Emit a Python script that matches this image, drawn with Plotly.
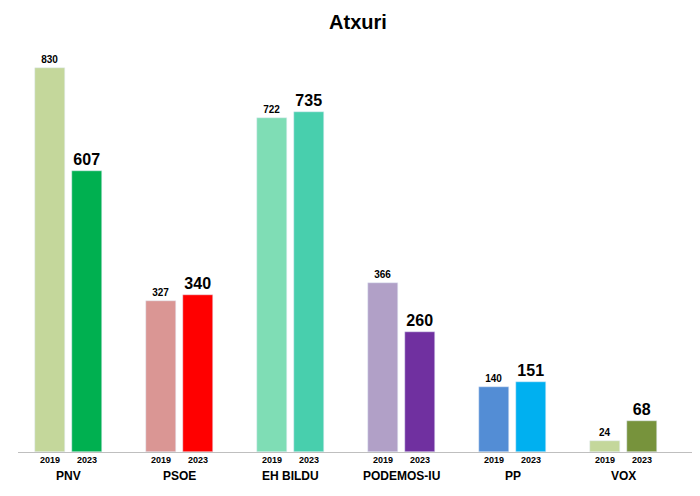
import plotly.graph_objects as go

parties = ["PNV", "PSOE", "EH BILDU", "PODEMOS-IU", "PP", "VOX"]
votes_2019 = [830, 327, 722, 366, 140, 24]
votes_2023 = [607, 340, 735, 260, 151, 68]
colors_2019 = ["#C4D79B", "#DA9694", "#7FDDB5", "#B1A0C7", "#538DD5", "#C4D79B"]
colors_2023 = ["#00B050", "#FF0000", "#48CFAD", "#7030A0", "#00B0F0", "#77933C"]

x19 = [3 * i - 0.5 for i in range(len(parties))]
x23 = [3 * i + 0.5 for i in range(len(parties))]

fig = go.Figure()
fig.add_trace(go.Bar(x=x19, y=votes_2019, width=0.8, marker_color=colors_2019,
                     text=["<b>%d</b>" % v for v in votes_2019], textposition="outside",
                     cliponaxis=False, textfont=dict(size=10, color="black")))
fig.add_trace(go.Bar(x=x23, y=votes_2023, width=0.8, marker_color=colors_2023,
                     text=["<b>%d</b>" % v for v in votes_2023], textposition="outside",
                     cliponaxis=False, textfont=dict(size=16, color="black")))

for i, p in enumerate(parties):
    fig.add_annotation(x=x19[i], y=0, yref="paper", yanchor="top", yshift=-1,
                       text="<b>2019</b>", showarrow=False, font=dict(size=9))
    fig.add_annotation(x=x23[i], y=0, yref="paper", yanchor="top", yshift=-1,
                       text="<b>2023</b>", showarrow=False, font=dict(size=9))
    fig.add_annotation(x=3 * i, y=0, yref="paper", yanchor="top", yshift=-15,
                       text="<b>%s</b>" % p, showarrow=False, font=dict(size=12))

fig.update_layout(
    width=700, height=496, showlegend=False, plot_bgcolor="white", paper_bgcolor="white",
    margin=dict(l=10, r=10, t=33, b=52),
    title=dict(text="<b>Atxuri</b>", x=0.5, y=0.985, yanchor="top",
               font=dict(size=20, color="black")),
    font=dict(family="Liberation Sans, Arial", color="black"),
    bargap=0,
)
fig.update_xaxes(range=[-1.37, 17.01], showticklabels=False, showgrid=False,
                 showline=True, linecolor="#BFBFBF", zeroline=False)
fig.update_yaxes(range=[0, 888], visible=False)
fig.write_html("out.html")
